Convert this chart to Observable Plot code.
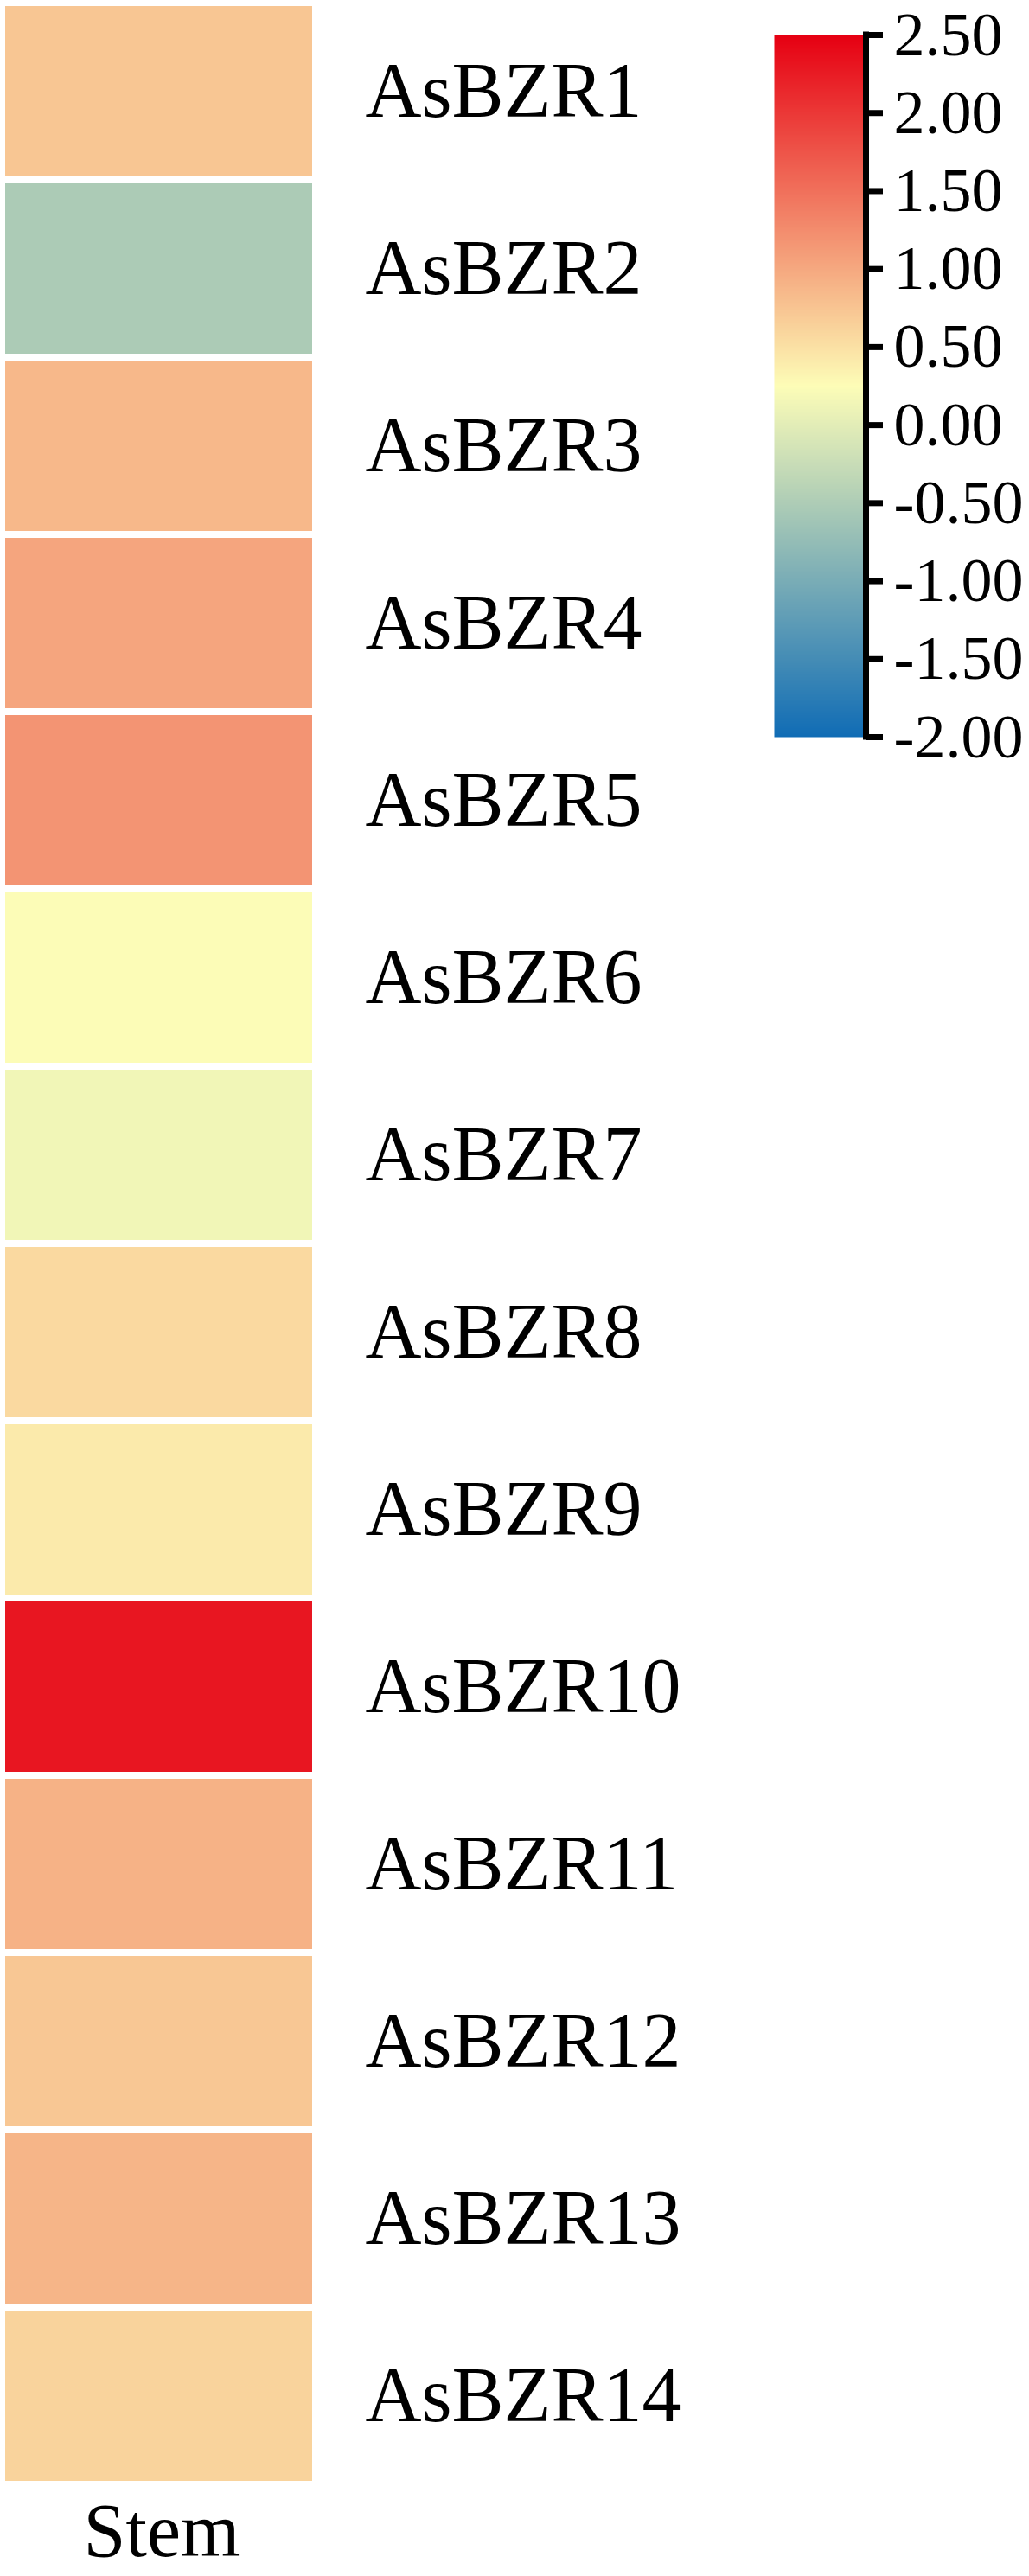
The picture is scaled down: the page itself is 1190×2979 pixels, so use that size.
<!DOCTYPE html>
<html>
<head>
<meta charset="utf-8">
<script src="https://cdn.jsdelivr.net/npm/d3@7"></script>
<script src="https://cdn.jsdelivr.net/npm/@observablehq/plot@0.6"></script>
<style>
  html, body { margin: 0; padding: 0; background: #ffffff; }
  #chart { position: relative; width: 1190px; height: 2979px; overflow: hidden; background: #ffffff; }
  #heat { position: absolute; left: 0; top: 0; }
  #bar { position: absolute; left: 860px; top: 0; }
</style>
</head>
<body>
<div id="chart"><div id="heat"></div><div id="bar"></div></div>
<script>
// ---- data ----
const genes = ["AsBZR1","AsBZR2","AsBZR3","AsBZR4","AsBZR5","AsBZR6","AsBZR7",
               "AsBZR8","AsBZR9","AsBZR10","AsBZR11","AsBZR12","AsBZR13","AsBZR14"];
const tissues = ["Stem"];
const stemValues = [0.74, -0.52, 0.86, 1.03, 1.18, 0.24, 0.14, 0.57, 0.42, 2.30, 0.92, 0.73, 0.89, 0.62];
const legendTicks = [2.5, 2, 1.5, 1, 0.5, 0, -0.5, -1, -1.5, -2];
const colorDomain = [-2, 0.25, 2.5];
const colorRange = ["#106cb5", "#fdfdb7", "#e60012"];

const table = genes.map((g, i) => ({gene: g, tissue: tissues[0], value: stemValues[i]}));
const font = "'Liberation Serif', 'Times New Roman', Times, serif";
const colorScale = {type: "linear", domain: colorDomain, range: colorRange, interpolate: "rgb", clamp: true};

// ---- heatmap ----
const heat = Plot.plot({
  width: 860,
  height: 2979,
  marginLeft: 6,
  marginRight: 499,
  marginTop: 6,
  marginBottom: 108,
  style: {background: "#ffffff", overflow: "visible", maxWidth: "none", fontFamily: font, color: "#000"},
  x: {domain: tissues, paddingInner: 0, paddingOuter: 0},
  y: {domain: genes, paddingInner: 0.0385, paddingOuter: 0},
  color: colorScale,
  marks: [
    Plot.cell(table, {x: "tissue", y: "gene", fill: "value"}),
    Plot.axisY({anchor: "right", tickSize: 0, tickPadding: 61, label: null, fontSize: 90, fill: "#000"}),
    Plot.axisX({anchor: "bottom", tickSize: 0, tickPadding: 22, label: null, fontSize: 88, fill: "#000", dx: 3})
  ]
});
document.getElementById("heat").appendChild(heat);

// ---- colour bar ----
const bar = Plot.plot({
  width: 330,
  height: 900,
  marginLeft: 35,
  marginRight: 189,
  marginTop: 40,
  marginBottom: 48,
  style: {background: "transparent", overflow: "visible", maxWidth: "none", fontFamily: font, color: "#000"},
  x: {domain: [0, 1], axis: null},
  y: {domain: [colorDomain[0], colorDomain[2]], axis: null},
  color: colorScale,
  marks: [
    Plot.raster({x1: 0, x2: 1, y1: colorDomain[0], y2: colorDomain[2], width: 4, height: 600, fill: (x, y) => y}),
    Plot.ruleX([1], {y1: colorDomain[0], y2: colorDomain[2], stroke: "#000", strokeWidth: 7, strokeLinecap: "square"}),
    Plot.axisY({anchor: "right", ticks: legendTicks, tickSize: 19, tickPadding: 13, strokeWidth: 7,
                tickFormat: d => d.toFixed(2), label: null, fontSize: 72, fill: "#000", stroke: "#000"})
  ]
});
document.getElementById("bar").appendChild(bar);
</script>
</body>
</html>
